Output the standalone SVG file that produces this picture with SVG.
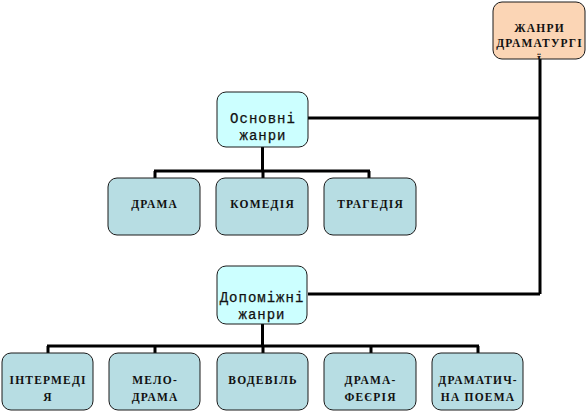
<svg xmlns="http://www.w3.org/2000/svg" width="586" height="412" viewBox="0 0 586 412">
<defs>
<style>
.box{stroke:#1a1a1a;stroke-width:1}
.peach{fill:#FBD5B5}
.cyan{fill:#CCFFFF}
.blue{fill:#B7DDE3}
.lbl{font-family:"Liberation Serif","DejaVu Serif",serif;font-weight:bold;font-size:11.5px;fill:#111;text-anchor:middle;letter-spacing:1.2px}
.lbl2{font-family:"Liberation Mono","DejaVu Sans Mono",monospace;font-size:14px;fill:#111;text-anchor:middle;letter-spacing:1px;stroke:#111;stroke-width:0.25}
.con{stroke:#000;stroke-width:3;fill:none}
</style>
<clipPath id="clipTop"><rect x="493" y="2" width="92" height="57" rx="9"/></clipPath>
</defs>
<rect width="586" height="412" fill="#fff"/>
<g id="connectors">
<path class="con" d="M540 59 V294 M308 118 H540 M308 294 H540"/>
<path class="con" d="M262.5 147 V171 M154 171 H370 M155 171 V179 M263 171 V179 M369 171 V179"/>
<path class="con" d="M262.5 324 V346 M47 346 H479 M48 346 V353 M155 346 V353 M263 346 V353 M371 346 V353 M478 346 V353"/>
</g>
<g id="n-zhanry">
<rect class="box peach" x="493" y="2" width="92" height="57" rx="9"/>
<g clip-path="url(#clipTop)">
<text class="lbl" x="539.6" y="32">ЖАНРИ</text>
<text class="lbl" x="539.6" y="47">ДРАМАТУРГІ</text>
<text class="lbl" x="539.6" y="64">Ї</text>
</g>
</g>
<g id="n-osnovni">
<rect class="box cyan" x="217" y="92" width="91" height="55" rx="9"/>
<text class="lbl2" x="263" y="123">Основні</text>
<text class="lbl2" x="263" y="140">жанри</text>
</g>
<g id="n-drama">
<rect class="box blue" x="108" y="178" width="92" height="57" rx="9"/>
<text class="lbl" x="154.6" y="208">ДРАМА</text>
</g>
<g id="n-komediia">
<rect class="box blue" x="216" y="178" width="92" height="57" rx="9"/>
<text class="lbl" x="262.6" y="208">КОМЕДІЯ</text>
</g>
<g id="n-trahediia">
<rect class="box blue" x="324" y="178" width="92" height="57" rx="9"/>
<text class="lbl" x="370.6" y="208">ТРАГЕДІЯ</text>
</g>
<g id="n-dopomizhni">
<rect class="box cyan" x="217" y="266" width="90" height="58" rx="9"/>
<text class="lbl2" x="262" y="302">Допоміжні</text>
<text class="lbl2" x="262" y="319">жанри</text>
</g>
<g id="n-intermedia">
<rect class="box blue" x="2" y="353" width="91" height="57" rx="9"/>
<text class="lbl" x="48.1" y="384">ІНТЕРМЕДІ</text>
<text class="lbl" x="48.1" y="401">Я</text>
</g>
<g id="n-melodrama">
<rect class="box blue" x="109" y="353" width="91" height="57" rx="9"/>
<text class="lbl" x="155.1" y="384">МЕЛО-</text>
<text class="lbl" x="155.1" y="401">ДРАМА</text>
</g>
<g id="n-vodevil">
<rect class="box blue" x="217" y="353" width="91" height="57" rx="9"/>
<text class="lbl" x="263.1" y="384">ВОДЕВІЛЬ</text>
</g>
<g id="n-dramafeeria">
<rect class="box blue" x="324" y="353" width="92" height="57" rx="9"/>
<text class="lbl" x="370.6" y="384">ДРАМА-</text>
<text class="lbl" x="370.6" y="401">ФЕЄРІЯ</text>
</g>
<g id="n-poema">
<rect class="box blue" x="432" y="353" width="91" height="57" rx="9"/>
<text class="lbl" x="478.1" y="384">ДРАМАТИЧ-</text>
<text class="lbl" x="478.1" y="401">НА ПОЕМА</text>
</g>
</svg>
